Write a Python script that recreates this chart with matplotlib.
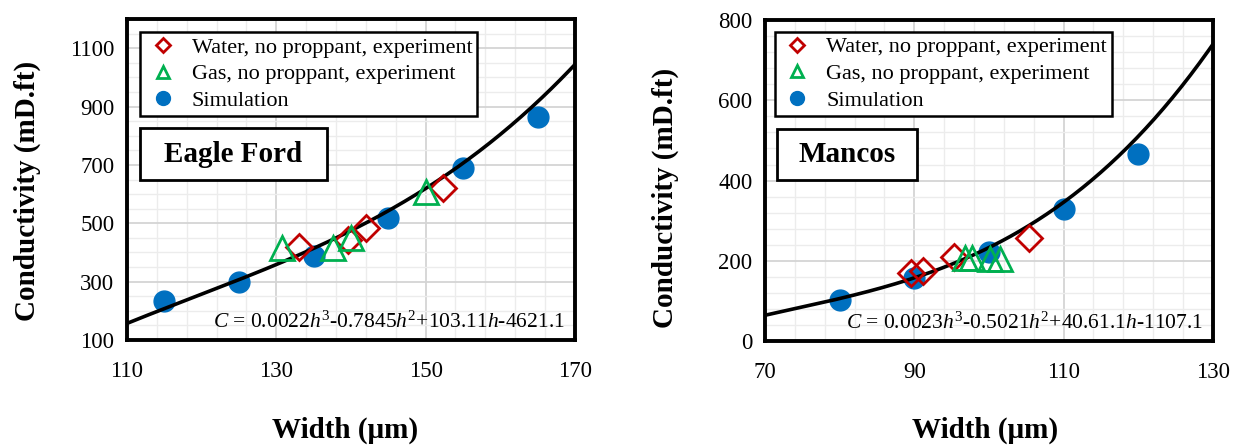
import numpy as np
import matplotlib.pyplot as plt
from matplotlib.lines import Line2D
from matplotlib.patches import Rectangle

plt.rcParams['font.family'] = ['Liberation Serif', 'DejaVu Serif']
plt.rcParams['mathtext.fontset'] = 'custom'
plt.rcParams['mathtext.rm'] = 'Liberation Serif'
plt.rcParams['mathtext.it'] = 'Liberation Serif:italic'

# Eagle Ford
ef_sim_x = [115, 125, 135, 145, 155, 165]
ef_sim_y = [232, 298, 388, 518, 689, 864]
ef_water_x = [133, 139.6, 142, 152.3]
ef_water_y = [420, 442, 483, 622]
ef_gas_x = [130.8, 137.6, 140, 150.1]
ef_gas_y = [415, 415, 450, 607]
ef_coef = [0.0022, -0.7845, 103.11, -4621.1]
ef_eq = r"$C$ = 0.0022$h^3$-0.7845$h^2$+103.11$h$-4621.1"
ef_xticks = [110, 130, 150, 170]
ef_yticks = [100, 300, 500, 700, 900, 1100]

# Mancos
mc_sim_x = [80, 90, 100, 110, 120]
mc_sim_y = [103, 157, 222, 328, 467]
mc_water_x = [89.6, 91.2, 95.3, 105.3]
mc_water_y = [170, 174, 210, 258]
mc_gas_x = [96.8, 97.7, 100.2, 101.5]
mc_gas_y = [206, 208, 204, 204]
mc_coef = [0.0023, -0.5021, 40.611, -1107.1]
mc_eq = r"$C$ = 0.0023$h^3$-0.5021$h^2$+40.61.1$h$-1107.1"
mc_xticks = [70, 90, 110, 130]
mc_yticks = [0, 200, 400, 600, 800]

blue = '#0070C0'
red = '#C00000'
green = '#00B050'

fig = plt.figure(figsize=(12.41, 4.47), dpi=100)
ax1 = fig.add_axes([0.1023, 0.2394, 0.361, 0.718])
ax2 = fig.add_axes([0.6164, 0.237, 0.361, 0.718])


def draw(ax, sx, sy, wx, wy, gx, gy, coef, eq, name, xticks, yticks, ylim,
         xminor, yminor, box):
    ax.set_xlim(xticks[0], xticks[-1])
    ax.set_ylim(*ylim)
    ax.set_xticks(xticks)
    ax.set_yticks(yticks)
    ax.set_xticks(np.arange(xticks[0], xticks[-1] + 0.1, xminor), minor=True)
    ax.set_yticks(np.arange(ylim[0], ylim[1] + 0.1, yminor), minor=True)
    ax.grid(which='minor', color='#ececec', lw=1.0, zorder=0)
    ax.grid(which='major', color='#d4d4d4', lw=1.3, zorder=0)
    ax.set_axisbelow(True)
    ax.tick_params(which='both', length=0, labelsize=16.5)
    ax.tick_params(axis='x', pad=15)
    ax.tick_params(axis='y', pad=9)
    for s in ax.spines.values():
        s.set_linewidth(2.8)
        s.set_color('black')

    hh = np.linspace(xticks[0], xticks[-1], 300)
    ax.plot(hh, np.polyval(coef, hh), color='black', lw=2.6, zorder=4)
    ax.plot(sx, sy, 'o', color=blue, ms=15, zorder=3)
    ax.plot(wx, wy, 'D', mfc='none', mec=red, mew=2, ms=13, zorder=5)
    ax.plot(gx, gy, '^', mfc='none', mec=green, mew=2, ms=17, zorder=5)

    handles = [
        Line2D([], [], ls='none', marker='D', mfc='none', mec=red, mew=2, ms=7),
        Line2D([], [], ls='none', marker='^', mfc='none', mec=green, mew=2, ms=9),
        Line2D([], [], ls='none', marker='o', color=blue, ms=10),
    ]
    labels = ['Water, no proppant, experiment', 'Gas, no proppant, experiment',
              'Simulation']
    leg = ax.legend(handles, labels, loc='upper left', bbox_to_anchor=box[0],
                    fontsize=16, frameon=True, fancybox=False, framealpha=1,
                    edgecolor='black', labelspacing=0.28, handletextpad=0.5,
                    borderpad=0.22, handlelength=1.6, borderaxespad=0)
    leg.get_frame().set_linewidth(1.8)

    bx, by, bw, bh = box[1]
    ax.add_patch(Rectangle((bx, by), bw, bh, transform=ax.transAxes,
                           fill=True, fc='white', ec='black', lw=2, zorder=6))
    ax.text(bx + bw / 2, by + bh / 2, name, transform=ax.transAxes,
            ha='center', va='center', fontsize=21, fontweight='bold', zorder=7)

    ax.text(0.978, 0.038, eq, transform=ax.transAxes, ha='right',
            va='baseline', fontsize=15.5, zorder=7)


draw(ax1, ef_sim_x, ef_sim_y, ef_water_x, ef_water_y, ef_gas_x, ef_gas_y,
     ef_coef, ef_eq, 'Eagle Ford', ef_xticks, ef_yticks, (100, 1200), 4, 50,
     ((0.029, 0.959), (0.029, 0.498, 0.417, 0.162)))
draw(ax2, mc_sim_x, mc_sim_y, mc_water_x, mc_water_y, mc_gas_x, mc_gas_y,
     mc_coef, mc_eq, 'Mancos', mc_xticks, mc_yticks, (0, 800), 4, 40,
     ((0.022, 0.963), (0.027, 0.502, 0.3125, 0.159)))

fig.text(27 / 1241, 1 - 191 / 447, 'Conductivity (mD.ft)', rotation=90,
         ha='center', va='center', fontsize=21, fontweight='bold')
fig.text(665 / 1241, 1 - 198 / 447, 'Conductivity (mD.ft)', rotation=90,
         ha='center', va='center', fontsize=21, fontweight='bold')
fig.text(345 / 1241, 1 - 430 / 447, 'Width (\u03bcm)', ha='center',
         va='center', fontsize=21, fontweight='bold')
fig.text(985 / 1241, 1 - 430 / 447, 'Width (\u03bcm)', ha='center',
         va='center', fontsize=21, fontweight='bold')

fig.savefig('out.png', dpi=100)
